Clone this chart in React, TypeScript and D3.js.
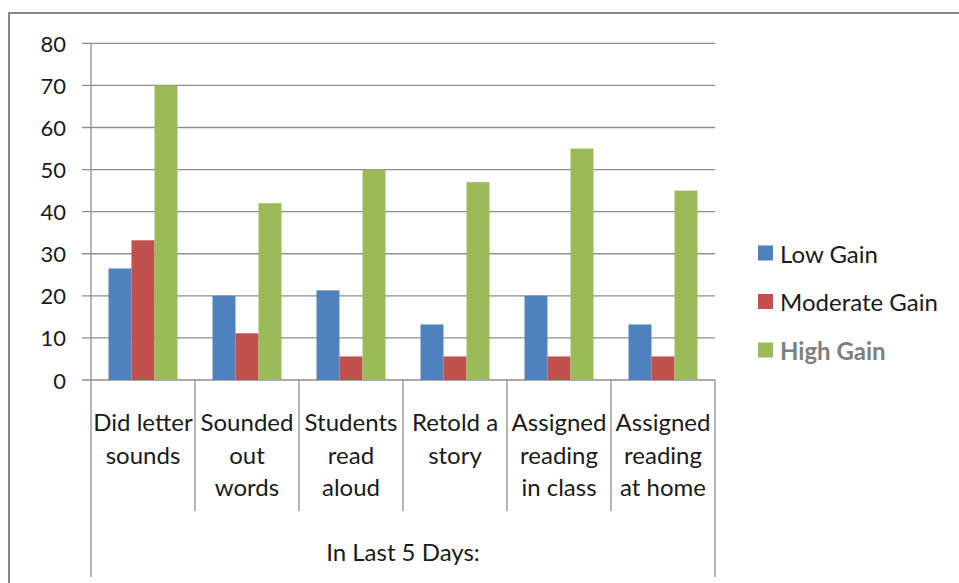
import React from "react";
import * as d3 from "d3";

const categories = [
  ["Did letter", "sounds"],
  ["Sounded", "out", "words"],
  ["Students", "read", "aloud"],
  ["Retold a", "story"],
  ["Assigned", "reading", "in class"],
  ["Assigned", "reading", "at home"],
];
const seriesNames = ["Low Gain", "Moderate Gain", "High Gain"];
const lowGain = [26.5, 20, 21.3, 13.2, 20, 13.2];
const moderateGain = [33.2, 11.1, 5.6, 5.6, 5.6, 5.6];
const highGain = [70, 42, 50, 47, 55, 45];
const yTicks = [0, 10, 20, 30, 40, 50, 60, 70, 80];
const groupLabel = "In Last 5 Days:";

const colors = ["#4F81BD", "#C0504D", "#9BBB59"];
const font = "Lato, 'Open Sans', sans-serif";

const W = 959;
const H = 583;

const App: React.FC = () => {
  const series = [lowGain, moderateGain, highGain];
  const keys = categories.map((c) => c.join(" "));

  const x = d3.scaleBand<string>().domain(keys).range([91, 715]);
  const inner = d3
    .scaleBand<string>()
    .domain(seriesNames)
    .range([0, x.bandwidth()])
    .paddingOuter(0.76);
  const y = d3.scaleLinear().domain([0, 80]).range([380, 43.3]);

  const grid = "#8e8e8e";
  const [x0, x1] = x.range();

  return (
    <svg
      width={W}
      height={H}
      style={{ position: "absolute", left: 0, top: 0, background: "#fff" }}
    >
      {/* outer frame */}
      <rect x={9} y={13} width={W} height={H} fill="none" stroke="#888" strokeWidth={2} />

      {/* gridlines and y ticks */}
      {yTicks.map((t) => (
        <g key={t}>
          <line x1={82} x2={x1} y1={y(t)} y2={y(t)} stroke={grid} strokeWidth={1.3} />
          <text
            x={66}
            y={y(t)}
            textAnchor="end"
            dominantBaseline="central"
            fontFamily={font}
            fontSize={22}
            fill="#1a1a1a"
          >
            {t}
          </text>
        </g>
      ))}

      {/* y axis */}
      <line x1={x0} x2={x0} y1={y(80)} y2={577} stroke={grid} strokeWidth={1.3} />

      {/* bars */}
      {keys.map((k, i) =>
        series.map((s, j) => (
          <rect
            key={k + j}
            x={(x(k) as number) + (inner(seriesNames[j]) as number)}
            y={y(s[i])}
            width={inner.bandwidth()}
            height={y(0) - y(s[i])}
            fill={colors[j]}
          />
        ))
      )}

      {/* category separators */}
      {keys.map((k, i) =>
        i === 0 ? null : (
          <line
            key={k}
            x1={x(k)}
            x2={x(k)}
            y1={y(0)}
            y2={511}
            stroke={grid}
            strokeWidth={1.3}
          />
        )
      )}
      <line x1={x1} x2={x1} y1={y(0)} y2={577} stroke={grid} strokeWidth={1.3} />

      {/* category labels */}
      {categories.map((lines, i) => (
        <text
          key={keys[i]}
          x={(x(keys[i]) as number) + x.bandwidth() / 2}
          y={431}
          textAnchor="middle"
          fontFamily={font}
          fontSize={24}
          fill="#1a1a1a"
        >
          {lines.map((l, li) => (
            <tspan key={li} x={(x(keys[i]) as number) + x.bandwidth() / 2} dy={li === 0 ? 0 : 32.5}>
              {l}
            </tspan>
          ))}
        </text>
      ))}

      <text
        x={(x0 + x1) / 2}
        y={561}
        textAnchor="middle"
        fontFamily={font}
        fontSize={24}
        fill="#1a1a1a"
      >
        {groupLabel}
      </text>

      {/* legend */}
      {seriesNames.map((n, j) => (
        <g key={n} transform={`translate(758, ${253 + j * 48.5})`}>
          <rect x={0} y={-7.5} width={15} height={15} fill={colors[j]} />
          <text
            x={22}
            y={0}
            dominantBaseline="central"
            fontFamily={font}
            fontSize={24}
            fontWeight={j === 2 ? 700 : 400}
            fill={j === 2 ? "#7f7f7f" : "#1a1a1a"}
          >
            {n}
          </text>
        </g>
      ))}
    </svg>
  );
};

export default App;
